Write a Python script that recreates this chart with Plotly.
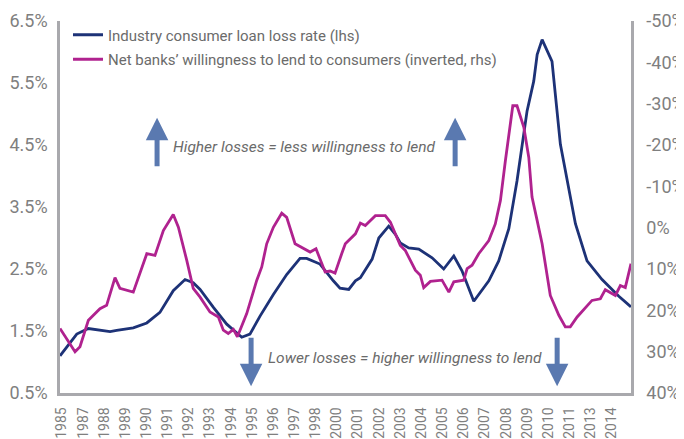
import plotly.graph_objects as go

FONT = "Liberation Sans Narrow, Arial Narrow, Roboto, sans-serif"
GREY = "#7f7f7f"
AXIS = "#a9a9ad"
NAVY = "#1d3277"
MAGENTA = "#b0228f"
ARROW = "#5a79b0"

# industry consumer loan loss rate, % (lhs)
loss_years = [
    1985.00, 1985.88, 1986.49, 1987.63, 1987.98, 1988.85, 1989.56, 1990.25, 1990.95,
    1991.57, 1992.00, 1992.36, 1993.06, 1993.76, 1994.55, 1994.98, 1995.51, 1996.21,
    1996.91, 1997.61, 1997.96, 1998.66, 1999.36, 1999.71, 2000.17, 2000.52, 2000.78,
    2001.40, 2001.75, 2002.27, 2002.62, 2002.88, 2003.32, 2003.85, 2004.55, 2005.16,
    2005.69, 2006.12, 2006.74, 2007.18, 2007.53, 2008.05, 2008.58, 2009.01, 2009.54,
    2009.89, 2010.07, 2010.33, 2010.85, 2011.29, 2012.08, 2012.69, 2013.48, 2014.36,
    2015.00,
]
loss_rate = [
    1.10, 1.45, 1.54, 1.49, 1.51, 1.55, 1.63, 1.80, 2.15,
    2.33, 2.28, 2.17, 1.88, 1.61, 1.40, 1.45, 1.74, 2.09,
    2.41, 2.67, 2.67, 2.58, 2.31, 2.19, 2.17, 2.31, 2.36,
    2.66, 3.00, 3.19, 3.06, 2.92, 2.84, 2.82, 2.68, 2.50,
    2.71, 2.47, 1.98, 2.17, 2.31, 2.63, 3.15, 3.92, 5.05,
    5.53, 5.96, 6.20, 5.85, 4.51, 3.23, 2.63, 2.33, 2.06,
    1.89,
]

# net banks' willingness to lend to consumers, % (rhs, inverted)
lend_years = [
    1985.00, 1985.79, 1986.05, 1986.49, 1987.10, 1987.45, 1987.89, 1988.15, 1988.85,
    1989.56, 1989.99, 1990.43, 1990.95, 1991.22, 1991.66, 1992.00, 1992.36, 1992.88,
    1993.32, 1993.58, 1993.84, 1994.11, 1994.32, 1994.81, 1995.34, 1995.60, 1995.86,
    1996.21, 1996.65, 1996.91, 1997.35, 1997.70, 1998.14, 1998.45, 1998.93, 1999.19,
    1999.45, 1999.80, 1999.99, 2000.52, 2000.78, 2001.04, 2001.57, 2002.09, 2002.36,
    2002.88, 2003.14, 2003.67, 2003.93, 2004.11, 2004.46, 2005.07, 2005.43, 2005.69,
    2006.21, 2006.39, 2006.65, 2007.00, 2007.53, 2007.87, 2008.14, 2008.40, 2008.79,
    2009.01, 2009.37, 2009.63, 2009.80, 2010.07, 2010.33, 2010.76, 2011.21, 2011.55,
    2011.81, 2012.17, 2012.95, 2013.39, 2013.65, 2014.18, 2014.44, 2014.70, 2015.00,
]
willingness = [
    24.4, 30.0, 28.8, 22.4, 19.6, 18.8, 12.1, 14.7, 15.6,
    6.3, 6.7, 0.7, -3.2, -0.1, 7.9, 14.7, 16.8, 20.4,
    21.6, 24.8, 25.6, 24.6, 26.4, 20.8, 12.7, 9.5, 3.9,
    -0.1, -3.5, -2.5, 3.9, 4.7, 5.9, 5.1, 10.7, 10.5,
    11.0, 6.3, 3.9, 1.5, -1.1, -0.5, -2.9, -2.9, -1.3,
    4.3, 5.5, 10.3, 11.5, 14.5, 13.0, 12.7, 15.6, 13.1,
    12.7, 9.9, 9.1, 6.3, 3.1, -0.9, -6.6, -16.2, -29.5,
    -29.5, -24.3, -17.0, -7.4, -1.7, 3.9, 16.4, 21.2, 24.0,
    24.0, 21.6, 17.6, 17.2, 15.0, 16.4, 14.0, 14.5, 8.7,
]

# category-style labels as printed under the axis (some years skipped)
year_labels = [
    "1985", "1987", "1988", "1989", "1990", "1991", "1992", "1993", "1994",
    "1995", "1996", "1997", "1998", "2000", "2001", "2002", "2003", "2004",
    "2005", "2006", "2007", "2008", "2009", "2010", "2011", "2013", "2014",
]
label_pos = [1985.1 + i * 1.111 for i in range(len(year_labels))]

rhs_ticks = [-50, -40, -30, -20, -10, 0, 10, 20, 30, 40]
rhs_labels = ["-50%", "-40%", "-30%", "-20%", "-10%", "0%", "10%", "20%", "30%", "40%"]

fig = go.Figure()
fig.add_trace(go.Scatter(
    x=loss_years, y=loss_rate, mode="lines",
    name="Industry consumer loan loss rate (lhs)",
    line=dict(color=NAVY, width=2.8),
    legendgroup="a",
))
fig.add_trace(go.Scatter(
    x=lend_years, y=willingness, mode="lines", yaxis="y2",
    name="Net banks’ willingness to lend to consumers (inverted, rhs)",
    line=dict(color=MAGENTA, width=2.8),
    legendgroup="b",
))

annotations = [
    dict(x=1997.87, y=4.47, text="<i>Higher losses = less willingness to lend</i>", showarrow=False),
    dict(x=2003.13, y=1.06, text="<i>Lower losses = higher willingness to lend</i>", showarrow=False),
]
for ax_year, tip, off in [(1990.10, 4.94, 50), (2005.76, 4.94, 50), (1995.04, 0.61, -50), (2011.12, 0.61, -50)]:
    annotations.append(dict(
        x=ax_year, y=tip, ax=0, ay=off, text="", showarrow=True,
        arrowhead=2, arrowsize=0.9, arrowwidth=5, arrowcolor=ARROW,
    ))
for a in annotations:
    a.setdefault("font", dict(family=FONT, size=15.5, color="#6b6b6b"))

# the page body has an 8px margin, so the figure is 8px smaller than the window
fig.update_layout(
    width=676, height=431,
    margin=dict(l=52, r=53, t=12, b=46),
    plot_bgcolor="white", paper_bgcolor="white",
    font=dict(family=FONT, color=GREY),
    showlegend=True,
    legend=dict(
        x=0.014, y=1.004, xanchor="left", yanchor="top",
        font=dict(family=FONT, size=15, color="#6b6b6b"),
        bgcolor="rgba(0,0,0,0)", tracegroupgap=2, itemwidth=30,
    ),
    annotations=annotations,
    xaxis=dict(
        range=[1985, 2015], tickvals=label_pos, ticktext=year_labels,
        tickangle=-90, tickfont=dict(size=14, color=GREY),
        showgrid=False, zeroline=False, showline=True, automargin=False,
        linecolor=AXIS, linewidth=2.5, ticks="", ticklabelstandoff=6,
    ),
    yaxis=dict(
        range=[0.5, 6.5], dtick=1, tick0=0.5, ticksuffix="%", tickformat=".1f",
        tickfont=dict(size=18, color=GREY),
        showgrid=False, zeroline=False, showline=True, automargin=False,
        linecolor=AXIS, linewidth=2.5, ticks="", ticklabelstandoff=6,
    ),
    yaxis2=dict(
        range=[40, -50], tickvals=rhs_ticks, ticktext=rhs_labels,
        overlaying="y", side="right",
        tickfont=dict(size=18, color=GREY),
        showgrid=False, zeroline=False, showline=True, automargin=False,
        linecolor=AXIS, linewidth=2.5, ticks="", ticklabelstandoff=9,
    ),
)

fig.write_html("out.html")
